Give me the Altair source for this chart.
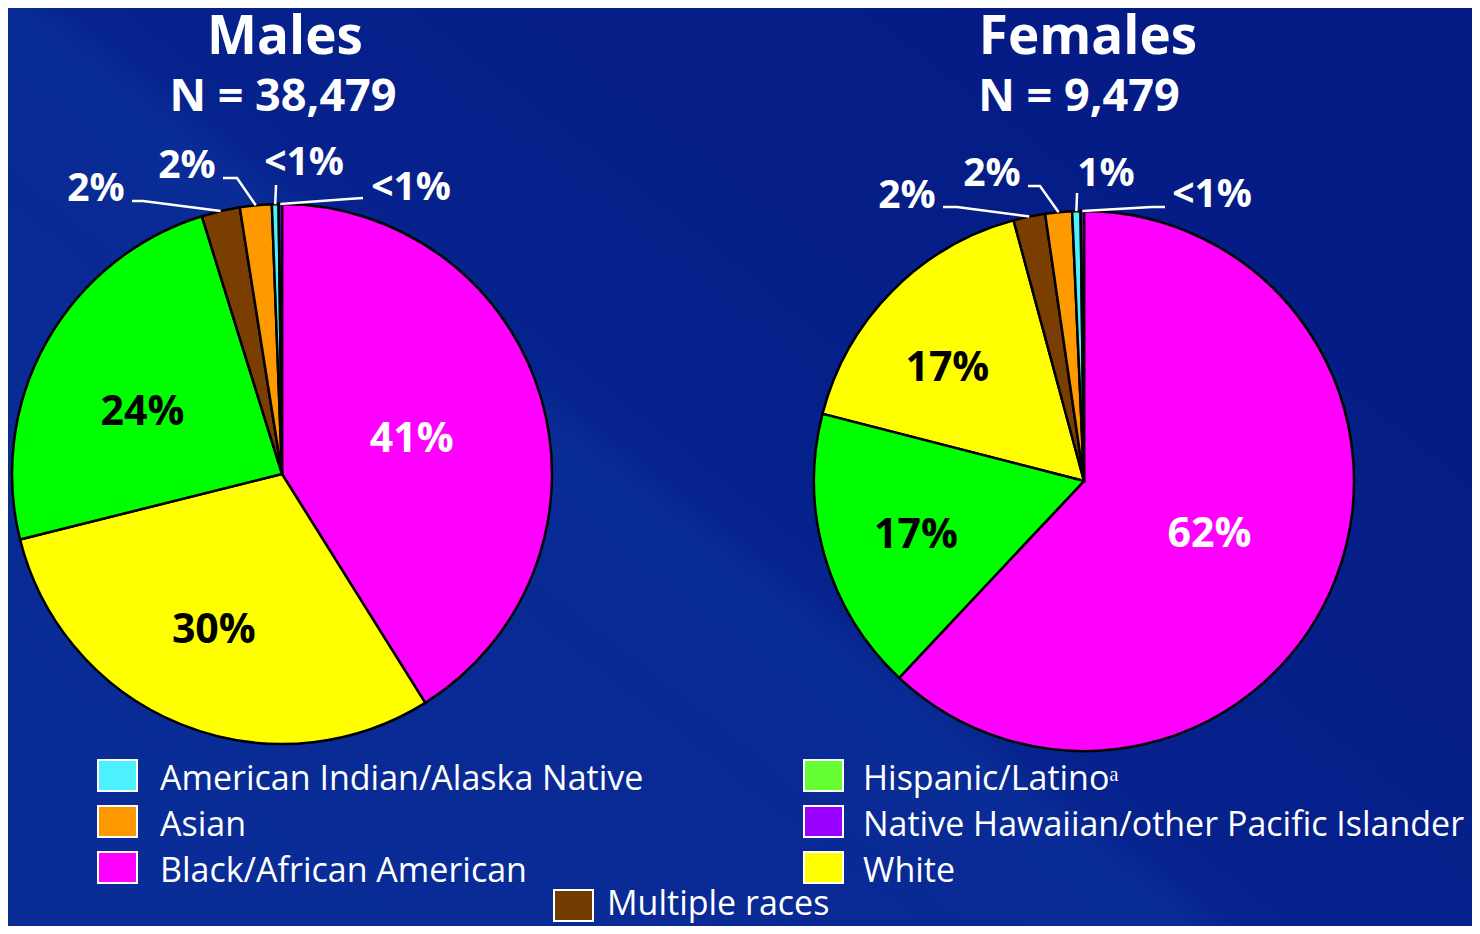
import altair as alt
import pandas as pd
import math

# ---------------- data ----------------
races = ["Black/African American", "White", "Hispanic/Latino", "Multiple races",
         "Asian", "American Indian/Alaska Native",
         "Native Hawaiian/other Pacific Islander"]
male_pct = [41.1, 30.0, 24.1, 2.3, 1.9, 0.4, 0.2]
female_pct = [62.0, 16.8, 17.0, 1.9, 1.6, 0.5, 0.2]
male_order = [1, 2, 3, 4, 5, 6, 7]
female_order = [1, 3, 2, 4, 5, 6, 7]
male_labels = ["41%", "30%", "24%", "2%", "2%", "<1%", "<1%"]
female_labels = ["62%", "17%", "17%", "2%", "2%", "1%", "<1%"]
groups = ["Males", "Females"]
group_n = [38479, 9479]
legend_races = ["American Indian/Alaska Native", "Asian", "Black/African American",
                "Hispanic/Latino", "Native Hawaiian/other Pacific Islander", "White",
                "Multiple races"]
legend_texts = ["American Indian/Alaska Native", "Asian", "Black/African American",
                "Hispanic/Latino\u1d43", "Native Hawaiian/other Pacific Islander", "White",
                "Multiple races"]

# ---------------- styles / layout ----------------
pie_colors = ["#ff00ff", "#ffff00", "#00ff00", "#7a3e00", "#ff9900", "#4cf0ff", "#9900ff"]
legend_colors = ["#4cf0ff", "#ff9900", "#ff00ff", "#66ff33", "#9900ff", "#ffff00", "#703c00"]
FONT = "Open Sans"
W, H = 1464, 918
OFF = 8  # page margin
R = 270
centers = {"Males": (282 - OFF, 474 - OFF), "Females": (1084 - OFF, 481 - OFF)}
title_x = {"Males": (285 - OFF, 283 - OFF), "Females": (1088 - OFF, 1079 - OFF)}

# inner label layout: order -> (radius, dx, dy, colour)
inner_layout = {
    "Males": {1: (135, 0, 3, "white"), 2: (169, -5, 0, "black"), 3: (160, 0, 17, "black")},
    "Females": {1: (135, 0, 4, "white"), 2: (175, 0, 6, "black"), 3: (178, -10, 13, "black")},
}

# outer label layout (page coords): text centre x, baseline y, line start, elbow
outer_layout = {
    "Males": {
        "Multiple races": ((96, 201), (132, 201), (143, 201)),
        "Asian": ((187, 178), (223, 178), (237, 178)),
        "American Indian/Alaska Native": ((304, 175), (276, 185), (276, 186)),
        "Native Hawaiian/other Pacific Islander": ((411, 200), (363, 198), (348, 199)),
    },
    "Females": {
        "Multiple races": ((907, 208), (943, 207), (957, 207)),
        "Asian": ((992, 186), (1028, 186), (1040, 186)),
        "American Indian/Alaska Native": ((1106, 186), (1077, 193), (1077, 194)),
        "Native Hawaiian/other Pacific Islander": ((1212, 207), (1165, 207), (1152, 207)),
    },
}

# legend layout (page coords): swatch left, top ; text left, baseline
legend_layout = [
    (98, 760, 160, 790), (98, 806, 160, 836), (98, 852, 160, 882),
    (804, 760, 863, 790), (804, 806, 863, 836), (804, 852, 863, 882),
    (554, 890, 607, 915),
]

# ---------------- tables ----------------
rows = []
for sex, pcts, ords, labs in [("Males", male_pct, male_order, male_labels),
                              ("Females", female_pct, female_order, female_labels)]:
    for r, p, o, l in zip(races, pcts, ords, labs):
        rows.append({"sex": sex, "race": r, "pct": p, "ord": o, "label": l})
df = pd.DataFrame(rows)

color_scale = alt.Scale(domain=races, range=pie_colors)
theta_scale = alt.Scale(domain=[0, 100])

# leader lines & outer labels
line_rows, text_rows = [], []
for sex, pcts, ords, labs in [("Males", male_pct, male_order, male_labels),
                              ("Females", female_pct, female_order, female_labels)]:
    idx = sorted(range(len(pcts)), key=lambda i: ords[i])
    cum = 0.0
    mids = {}
    for i in idx:
        mids[races[i]] = cum + pcts[i] / 2
        cum += pcts[i]
    cx, cy = centers[sex]
    for race, (tpos, start, elbow) in outer_layout[sex].items():
        ang = 2 * math.pi * mids[race] / 100
        ax, ay = cx + R * math.sin(ang), cy - R * math.cos(ang)
        key = sex + race
        pts = [(start[0] - OFF, start[1] - OFF), (elbow[0] - OFF, elbow[1] - OFF), (ax, ay)]
        for k, (px, py) in enumerate(pts):
            line_rows.append({"key": key, "i": k, "lx": px, "ly": py})
        text_rows.append({"tx": tpos[0] - OFF, "ty": tpos[1] - OFF,
                          "label": labs[races.index(race)]})
lines_df = pd.DataFrame(line_rows)
otext_df = pd.DataFrame(text_rows)

leg_rows = []
for race, txt, (sl, st, tl, tb) in zip(legend_races, legend_texts, legend_layout):
    leg_rows.append({"race": race, "txt": txt, "x1": sl - OFF, "x2": sl - OFF + 39,
                     "y1": st - OFF, "y2": st - OFF + 31, "tx": tl - OFF, "ty": tb - OFF})
leg_df = pd.DataFrame(leg_rows)

title_df = pd.DataFrame({"sex": groups, "n": group_n})

# ---------------- layers ----------------
layers = []

bg = alt.Chart(pd.DataFrame({"a": [0]})).mark_rect(
    color=alt.LinearGradient(
        gradient="linear",
        stops=[alt.GradientStop(color="#0a2c96", offset=0),
               alt.GradientStop(color="#092a94", offset=0.35),
               alt.GradientStop(color="#0a2c96", offset=0.44),
               alt.GradientStop(color="#06228c", offset=0.47),
               alt.GradientStop(color="#051d87", offset=0.75),
               alt.GradientStop(color="#041a84", offset=1)],
        x1=0, y1=0.9, x2=1, y2=0.1)
).encode(x=alt.value(0), x2=alt.value(W), y=alt.value(0), y2=alt.value(H))
layers.append(bg)

for sex in groups:
    cx, cy = centers[sex]
    base = alt.Chart(df).transform_filter(alt.datum.sex == sex)
    arcs = base.mark_arc(outerRadius=R, stroke="black", strokeWidth=2.5).encode(
        theta=alt.Theta("pct:Q", stack=True, scale=theta_scale),
        order=alt.Order("ord:Q"),
        color=alt.Color("race:N", scale=color_scale, legend=None),
        x=alt.value(cx), y=alt.value(cy),
    )
    layers.append(arcs)
    mid = base.transform_window(
        cum="sum(pct)", sort=[alt.SortField("ord")], frame=[None, 0]
    ).transform_calculate(mid="datum.cum - datum.pct / 2")
    for o, (rad, ddx, ddy, col) in inner_layout[sex].items():
        layers.append(mid.transform_filter(alt.datum.ord == o).mark_text(
            radius=rad, dx=ddx, dy=ddy, font=FONT, fontWeight="bold", fontSize=41,
            color=col, align="center", baseline="middle").encode(
            theta=alt.Theta("mid:Q", stack=False, scale=theta_scale),
            text="label:N", x=alt.value(cx), y=alt.value(cy)))

leaders = alt.Chart(lines_df).mark_line(color="white", strokeWidth=2.5).encode(
    x=alt.X("lx:Q", scale=None), y=alt.Y("ly:Q", scale=None),
    detail="key:N", order="i:Q")
outer_text = alt.Chart(otext_df).mark_text(
    font=FONT, fontWeight="bold", fontSize=39, color="white",
    align="center", baseline="alphabetic").encode(
    x=alt.X("tx:Q", scale=None), y=alt.Y("ty:Q", scale=None), text="label:N")
layers += [leaders, outer_text]

for sex in groups:
    tx, nx = title_x[sex]
    t = alt.Chart(title_df).transform_filter(alt.datum.sex == sex)
    layers.append(t.mark_text(font=FONT, fontWeight="bold", fontSize=53, color="white",
                              align="center", baseline="alphabetic").encode(
        text="sex:N", x=alt.value(tx), y=alt.value(54 - OFF)))
    layers.append(t.transform_calculate(nt="'N = ' + format(datum.n, ',')").mark_text(
        font=FONT, fontWeight="bold", fontSize=45, color="white",
        align="center", baseline="alphabetic").encode(
        text="nt:N", x=alt.value(nx), y=alt.value(111 - OFF)))

leg_sw = alt.Chart(leg_df).mark_rect(stroke="white", strokeWidth=2).encode(
    x=alt.X("x1:Q", scale=None), x2="x2:Q", y=alt.Y("y1:Q", scale=None), y2="y2:Q",
    fill=alt.Fill("race:N", scale=alt.Scale(domain=legend_races, range=legend_colors),
                  legend=None))
leg_tx = alt.Chart(leg_df).mark_text(font=FONT, fontSize=34, color="white",
                                     align="left", baseline="alphabetic").encode(
    x=alt.X("tx:Q", scale=None), y=alt.Y("ty:Q", scale=None), text="txt:N")
layers += [leg_sw, leg_tx]

chart = alt.layer(*layers).properties(
    width=W, height=H, padding=0, background="#06238d",
    autosize=alt.AutoSizeParams(type="none")
).configure_view(stroke=None)

chart.save("out.html", embed_options={"renderer": "svg", "actions": False})
